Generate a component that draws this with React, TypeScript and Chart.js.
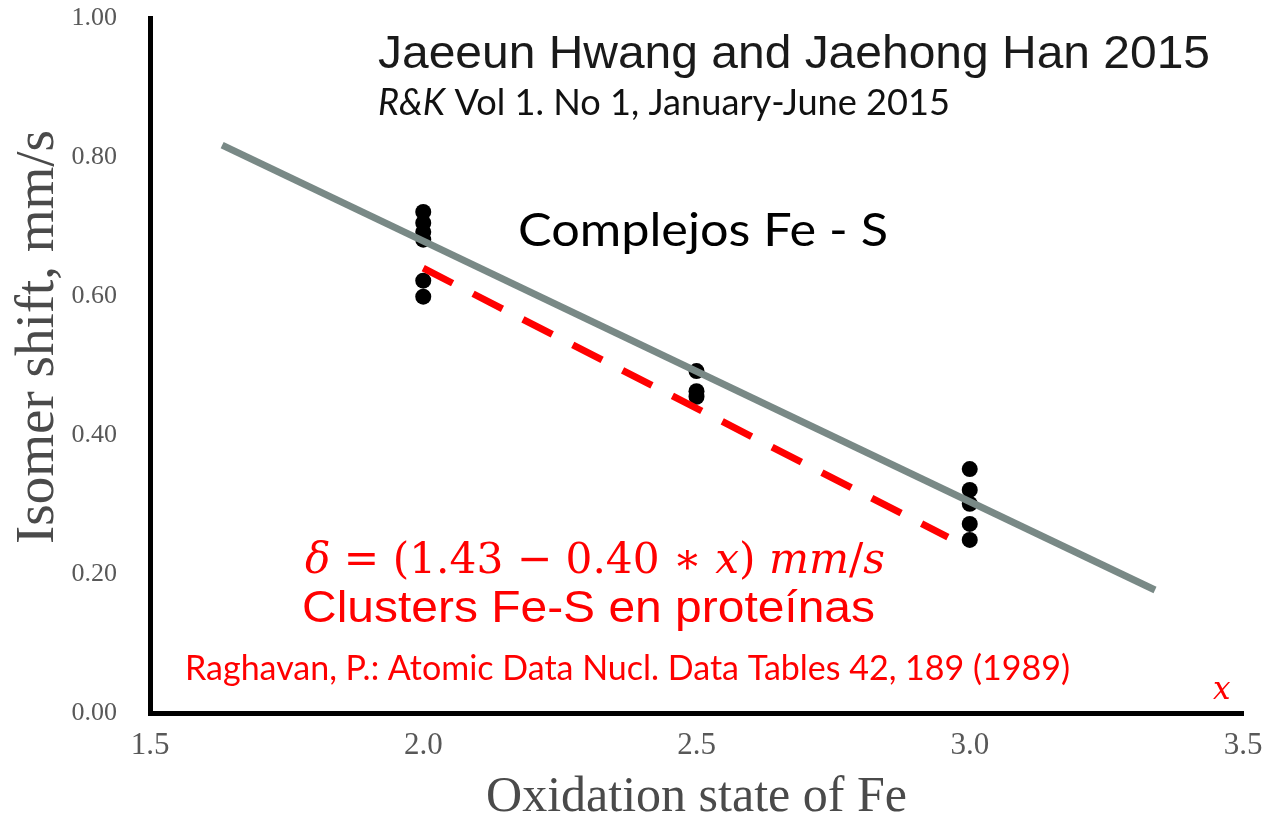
import React, { useEffect, useRef } from "react";
import { Chart, registerables } from "chart.js";

Chart.register(...registerables);

// ---- data ----
const xTickValues = [1.5, 2.0, 2.5, 3.0, 3.5];
const yTickValues = [0.0, 0.2, 0.4, 0.6, 0.8, 1.0];

const pointX = [2.0, 2.0, 2.0, 2.0, 2.0, 2.0, 2.5, 2.5, 2.5, 3.0, 3.0, 3.0, 3.0, 3.0];
const pointY = [0.721, 0.705, 0.692, 0.681, 0.622, 0.599, 0.492, 0.463, 0.455, 0.351, 0.321, 0.301, 0.272, 0.249];

const fitX = [1.632, 3.339];
const fitY = [0.817, 0.177];

const modelX = [2.0, 2.96];
const modelY = [0.64, 0.253];

const xTitle = "Oxidation state of Fe";
const yTitle = "Isomer shift, mm/s";
const authors = "Jaeeun Hwang and Jaehong Han 2015";
const journalItalic = "R&K";
const journalRest = " Vol 1. No 1, January-June 2015";
const subtitle = "Complejos Fe - S";
const formulaParts: [string, boolean][] = [
  ["δ", true],
  [" = (1.43 − 0.40 ∗ ", false],
  ["x", true],
  [") ", false],
  ["mm", true],
  ["/", false],
  ["s", true],
];
const clusters = "Clusters Fe-S en proteínas";
const reference = "Raghavan, P.: Atomic Data Nucl. Data Tables 42, 189 (1989)";
const axisVar = "x";

type Run = { text: string; font: string };

function drawRuns(
  ctx: CanvasRenderingContext2D,
  runs: Run[],
  x: number,
  baseline: number,
  color: string,
  targetWidth?: number
) {
  ctx.save();
  ctx.textBaseline = "alphabetic";
  ctx.textAlign = "left";
  let total = 0;
  for (const r of runs) {
    ctx.font = r.font;
    total += ctx.measureText(r.text).width;
  }
  const sx = targetWidth ? targetWidth / total : 1;
  ctx.translate(x, baseline);
  ctx.scale(sx, 1);
  ctx.fillStyle = color;
  let cx = 0;
  for (const r of runs) {
    ctx.font = r.font;
    ctx.fillText(r.text, cx, 0);
    cx += ctx.measureText(r.text).width;
  }
  ctx.restore();
}

const annotationPlugin = {
  id: "annotations",
  afterDraw(chart: any) {
    const ctx: CanvasRenderingContext2D = chart.ctx;
    const arial = '"Liberation Sans", Arial, sans-serif';
    const calibri = 'Lato, "Open Sans", sans-serif';
    const math = '"DejaVu Serif", serif';

    drawRuns(ctx, [{ text: authors, font: `46px ${arial}` }], 378, 68, "#1a1a1a", 832);
    drawRuns(
      ctx,
      [
        { text: journalItalic, font: `italic 36px ${calibri}` },
        { text: journalRest, font: `36px ${calibri}` },
      ],
      378,
      115,
      "#111111",
      572
    );
    drawRuns(ctx, [{ text: subtitle, font: `46px ${calibri}` }], 518, 246, "#000000", 370);

    drawRuns(
      ctx,
      formulaParts.map(([t, it]) => ({ text: t, font: `${it ? "italic " : ""}43px ${math}` })),
      305,
      573,
      "#ff0000",
      580
    );
    drawRuns(ctx, [{ text: clusters, font: `45px ${arial}` }], 302, 622, "#ff0000", 573);
    drawRuns(ctx, [{ text: reference, font: `35px ${calibri}` }], 185, 680, "#ff0000", 885);
    drawRuns(ctx, [{ text: axisVar, font: `italic 31px ${math}` }], 1213, 699, "#ff0000");

    // y-axis title
    ctx.save();
    ctx.translate(53, 337);
    ctx.rotate(-Math.PI / 2);
    ctx.font = '55px "Liberation Serif", "Times New Roman", serif';
    ctx.fillStyle = "#4a4a4a";
    ctx.textAlign = "center";
    ctx.textBaseline = "alphabetic";
    ctx.fillText(yTitle, 0, 0);
    ctx.restore();
  },
};

export default function App() {
  const canvasRef = useRef<HTMLCanvasElement | null>(null);

  useEffect(() => {
    if (!canvasRef.current) return;
    const serif = '"Liberation Serif", "Times New Roman", serif';
    const chart = new Chart(canvasRef.current, {
      type: "scatter",
      data: {
        datasets: [
          {
            label: "fit",
            data: fitX.map((x, i) => ({ x, y: fitY[i] })),
            showLine: true,
            borderColor: "#798986",
            borderWidth: 7,
            pointRadius: 0,
            borderCapStyle: "butt",
          },
          {
            label: "model",
            data: modelX.map((x, i) => ({ x, y: modelY[i] })),
            showLine: true,
            borderColor: "#ff0000",
            borderWidth: 7,
            borderDash: [33, 23],
            pointRadius: 0,
          },
          {
            label: "points",
            data: pointX.map((x, i) => ({ x, y: pointY[i] })),
            backgroundColor: "#000000",
            borderColor: "#000000",
            borderWidth: 0,
            pointRadius: 8,
          },
        ],
      },
      options: {
        animation: false,
        responsive: false,
        maintainAspectRatio: false,
        layout: { padding: { left: 0, right: 33, top: 18, bottom: 0 } },
        plugins: {
          legend: { display: false },
          tooltip: { enabled: false },
        },
        scales: {
          x: {
            type: "linear",
            min: 1.5,
            max: 3.5,
            afterFit: (s: any) => {
              s.height = 110;
            },
            afterBuildTicks: (s: any) => {
              s.ticks = xTickValues.map((v) => ({ value: v }));
            },
            ticks: {
              callback: (v: any) => Number(v).toFixed(1),
              font: { family: serif, size: 31 },
              color: "#585858",
              padding: 0,
              maxRotation: 0,
            },
            grid: {
              display: true,
              drawOnChartArea: false,
              drawTicks: true,
              tickLength: 14,
              tickColor: "rgba(0,0,0,0)",
            },
            border: { display: true, color: "#000000", width: 5 },
            title: {
              display: true,
              text: xTitle,
              font: { family: serif, size: 50, lineHeight: 1 },
              color: "#4a4a4a",
              padding: 0,
            },
          },
          y: {
            type: "linear",
            min: 0,
            max: 1,
            afterFit: (s: any) => {
              s.width = 150;
            },
            afterBuildTicks: (s: any) => {
              s.ticks = yTickValues.map((v) => ({ value: v }));
            },
            ticks: {
              callback: (v: any) => Number(v).toFixed(2),
              font: { family: serif, size: 26 },
              color: "#585858",
              padding: 0,
            },
            grid: {
              display: true,
              drawOnChartArea: false,
              drawTicks: true,
              tickLength: 33,
              tickColor: "rgba(0,0,0,0)",
            },
            border: { display: true, color: "#000000", width: 5 },
          },
        },
      },
      plugins: [annotationPlugin],
    });
    return () => chart.destroy();
  }, []);

  return (
    <div style={{ position: "absolute", left: 0, top: 0, width: 1276, height: 823, background: "#ffffff" }}>
      <canvas ref={canvasRef} width={1276} height={823} style={{ display: "block" }} />
    </div>
  );
}
